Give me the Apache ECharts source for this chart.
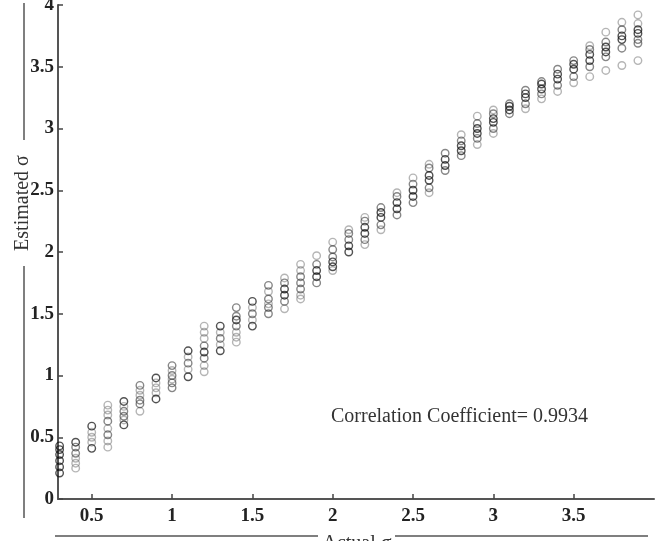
<!DOCTYPE html>
<html>
<head>
<meta charset="utf-8">
<script src="https://cdn.jsdelivr.net/npm/echarts@6/dist/echarts.min.js"></script>
<style>
  html, body { margin: 0; padding: 0; background: #fff; }
  #chart { width: 655px; height: 541px; }
</style>
</head>
<body>
<div id="chart"></div>
<script>
// actual sigma for every column of circles
const actualSigma = [0.3, 0.4, 0.5, 0.6, 0.7, 0.8, 0.9, 1.0, 1.1, 1.2, 1.3, 1.4, 1.5, 1.6, 1.7, 1.8, 1.9,
  2.0, 2.1, 2.2, 2.3, 2.4, 2.5, 2.6, 2.7, 2.8, 2.9, 3.0, 3.1, 3.2, 3.3, 3.4, 3.5, 3.6, 3.7, 3.8, 3.9];

// estimated sigma, one list per column, split by how dark the circle is
const darkEst = [
  [0.21, 0.26, 0.31, 0.36, 0.40, 0.43], [0.46], [0.59, 0.41], [], [0.79, 0.60], [], [0.98, 0.81], [],
  [1.20, 0.99], [1.19], [1.40, 1.20], [1.45], [1.60, 1.40], [], [1.65, 1.70], [], [1.80, 1.85],
  [1.92, 1.88], [2.00, 2.05], [2.15, 2.20], [2.28, 2.32], [2.40, 2.35], [2.45, 2.50], [2.58, 2.62],
  [2.70, 2.75], [2.82, 2.86], [2.96, 3.00], [3.05, 3.08], [3.15, 3.18], [3.25, 3.28], [3.32, 3.36],
  [3.40, 3.44], [3.48, 3.52], [3.55, 3.60], [3.62, 3.66], [3.72, 3.75], [3.77, 3.80]
];
const midEst = [
  [], [0.42, 0.37], [], [0.63, 0.52], [0.67, 0.71], [0.92, 0.80, 0.77], [], [1.08, 1.00, 0.94, 0.90],
  [1.10], [1.24, 1.14], [1.30], [1.55, 1.48, 1.40], [1.50], [1.73, 1.62, 1.55, 1.50], [1.60, 1.75],
  [1.80, 1.75, 1.70], [1.90, 1.75], [1.96, 2.02], [2.10, 2.15], [2.10, 2.25], [2.22, 2.36], [2.30, 2.45],
  [2.40, 2.55], [2.52, 2.68], [2.80, 2.66], [2.90, 2.78], [2.92, 3.04], [3.00, 3.12], [3.12, 3.20],
  [3.20, 3.31], [3.28, 3.38], [3.35, 3.48], [3.42, 3.55], [3.50, 3.64], [3.58, 3.70], [3.65, 3.80], [3.69, 3.72]
];
const lightEst = [
  [], [0.33, 0.29, 0.25], [0.46, 0.50, 0.54], [0.42, 0.47, 0.57, 0.68, 0.72, 0.76], [0.64, 0.75],
  [0.71, 0.84, 0.88], [0.86, 0.90, 0.94], [1.04, 0.97], [1.05, 1.15], [1.40, 1.35, 1.30, 1.08, 1.03],
  [1.25, 1.35], [1.35, 1.31, 1.27], [1.45, 1.55], [1.68, 1.58], [1.79, 1.54], [1.90, 1.85, 1.65, 1.62],
  [1.97], [2.08, 1.85], [2.18], [2.06, 2.28], [2.18], [2.48], [2.60], [2.48, 2.71], [], [2.95],
  [3.10, 2.87], [3.15, 2.96], [], [3.16], [3.24], [3.30], [3.37], [3.42, 3.67], [3.47, 3.78],
  [3.51, 3.86], [3.55, 3.85, 3.92]
];

const xTicks = [0.5, 1, 1.5, 2, 2.5, 3, 3.5];
const corrText = 'Correlation Coefficient= 0.9934';
const xTitle = 'Actual σ';
const yTitle = 'Estimated σ';

function toPoints(est) {
  const pts = [];
  est.forEach(function (col, i) {
    col.forEach(function (v) { pts.push([actualSigma[i], v]); });
  });
  return pts;
}

const labelFont = {
  fontFamily: 'Liberation Serif',
  fontSize: 19,
  fontWeight: 'bold',
  color: '#222'
};

function circles(name, est, stroke) {
  return {
    name: name,
    type: 'scatter',
    clip: false,
    symbol: 'circle',
    symbolSize: 7.5,
    itemStyle: { color: 'rgba(0,0,0,0)', borderColor: stroke, borderWidth: 1.4 },
    data: toPoints(est)
  };
}

const chart = echarts.init(document.getElementById('chart'));
chart.setOption({
  animation: false,
  grid: { left: 58, right: 1, top: 5, bottom: 42, outerBoundsMode: 'none' },
  xAxis: {
    type: 'value',
    min: 0.29,
    max: 4.0,
    axisLine: { lineStyle: { color: '#555', width: 2 } },
    axisTick: { inside: true, length: 5, customValues: xTicks, lineStyle: { color: '#444', width: 1.5 } },
    axisLabel: Object.assign({ customValues: xTicks, margin: 8 }, labelFont),
    splitLine: { show: false }
  },
  yAxis: {
    type: 'value',
    min: 0,
    max: 4,
    interval: 0.5,
    axisLine: { show: true, lineStyle: { color: '#555', width: 2 } },
    axisTick: { show: true, inside: true, length: 5, lineStyle: { color: '#444', width: 1.5 } },
    axisLabel: Object.assign({ margin: 4 }, labelFont),
    splitLine: { show: false }
  },
  series: [
    circles('light', lightEst, 'rgba(100,100,100,0.6)'),
    circles('mid', midEst, 'rgba(55,55,55,0.75)'),
    circles('dark', darkEst, 'rgba(15,15,15,0.9)')
  ],
  graphic: [
    // bracket lines round the axis titles
    { type: 'line', shape: { x1: 24, y1: 3, x2: 24, y2: 140 }, style: { stroke: '#555', lineWidth: 1.5 } },
    { type: 'line', shape: { x1: 24, y1: 266, x2: 24, y2: 518 }, style: { stroke: '#555', lineWidth: 1.5 } },
    { type: 'line', shape: { x1: 55, y1: 536, x2: 318, y2: 536 }, style: { stroke: '#555', lineWidth: 1.5 } },
    { type: 'line', shape: { x1: 395, y1: 536, x2: 648, y2: 536 }, style: { stroke: '#555', lineWidth: 1.5 } },
    {
      type: 'text',
      x: 23,
      y: 203,
      rotation: Math.PI / 2,
      style: { text: yTitle, font: '20px "Liberation Serif"', fill: '#333', align: 'center', verticalAlign: 'middle' }
    },
    {
      type: 'text',
      x: 357,
      y: 544,
      style: { text: xTitle, font: '20px "Liberation Serif"', fill: '#333', align: 'center', verticalAlign: 'middle' }
    },
    {
      type: 'text',
      left: 331,
      top: 407,
      style: { text: corrText, font: '20px "Liberation Serif"', fill: '#333' }
    }
  ]
});
</script>
</body>
</html>
